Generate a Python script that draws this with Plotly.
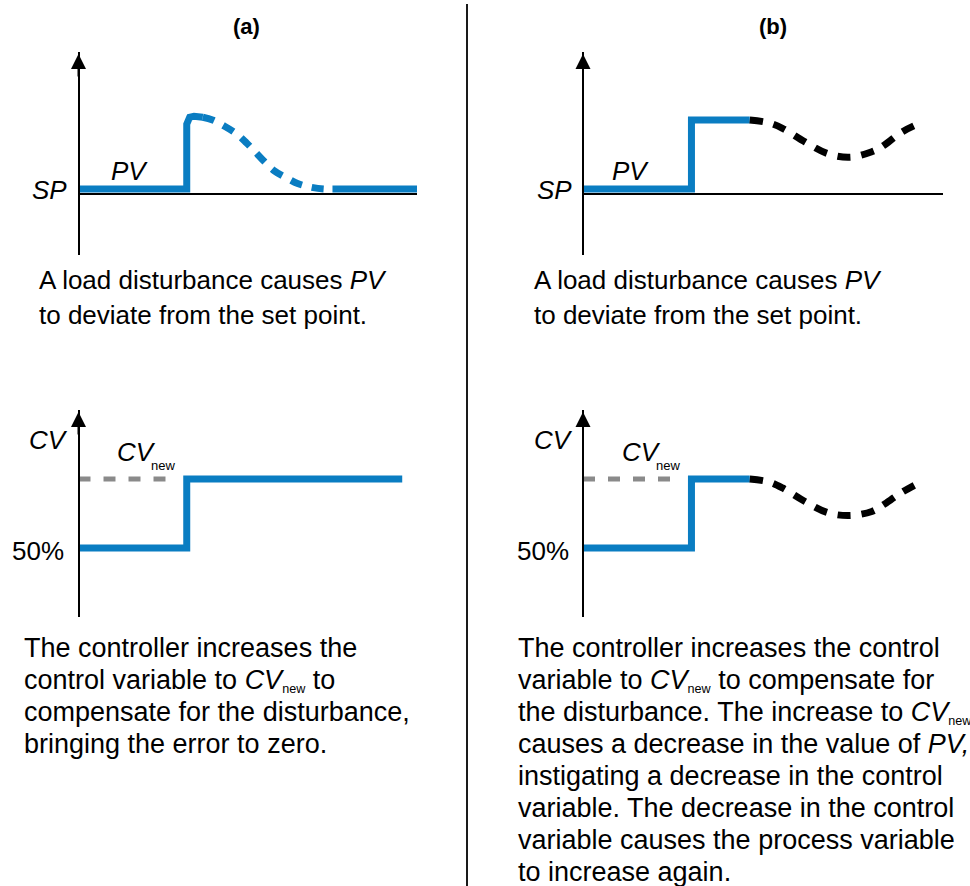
import plotly.graph_objects as go

W, H = 970, 886

# ---------------- data (time units, signal units) ----------------
# Panel (a), process variable
PV_A_RISE_T = [0, 9.93, 9.93, 10.0, 10.2, 10.6, 11.1, 11.4]
PV_A_RISE_V = [0, 0, 9.4, 10.0, 10.4, 10.55, 10.55, 10.4]
PV_A_DECAY_T = [11.4, 12.3, 13.4, 14.5, 15.4, 16.2, 17.1, 18.0, 19.1, 20.1, 21.2, 22.5, 23.3]
PV_A_DECAY_V = [10.4, 10.0, 9.1, 8.0, 6.7, 5.4, 3.9, 2.6, 1.6, 0.8, 0.3, 0.0, 0.0]
PV_A_SETTLED_T = [23.3, 31.06]
PV_A_SETTLED_V = [0, 0]

# Panel (a), control variable
CV_A_T = [0, 9.93, 9.93, 29.7]
CV_A_V = [50, 50, 60, 60]
CV_NEW_T = [0, 8.6]
CV_NEW_V = [60, 60]

# Panel (b), process variable
PV_B_STEP_T = [0, 9.95, 9.95, 15.3]
PV_B_STEP_V = [0, 0, 10, 10]
PV_B_OSC_T = [15.3, 17.0, 18.3, 20.4, 22.5, 24.5, 26.5, 27.3, 29.3, 31.0]
PV_B_OSC_V = [10, 9.6, 8.8, 6.8, 5.1, 4.6, 5.4, 6.0, 8.3, 9.6]

# Panel (b), control variable
CV_B_STEP_T = [0, 9.95, 9.95, 15.3]
CV_B_STEP_V = [50, 50, 60, 60]
CV_B_OSC_T = [15.3, 17.0, 18.3, 20.4, 22.5, 24.5, 26.5, 27.3, 29.3, 31.0]
CV_B_OSC_V = [60, 59.6, 58.7, 56.7, 55.1, 54.7, 55.3, 56.0, 58.1, 59.6]

# Text
TITLES = ["(a)", "(b)"]
SUB_NEW = '<span style="font-size:18px"><sub>new</sub></span>'
TOP_TEXT = ["A load disturbance causes <i>PV</i>", "to deviate from the set point."]
BOTTOM_A_TEXT = [
    "The controller increases the",
    "control variable to <i>CV</i>" + SUB_NEW + " to",
    "compensate for the disturbance,",
    "bringing the error to zero.",
]
BOTTOM_B_TEXT = [
    "The controller increases the control",
    "variable to <i>CV</i>" + SUB_NEW + " to compensate for",
    "the disturbance. The increase to <i>CV</i>" + SUB_NEW,
    "causes a decrease in the value of <i>PV,</i>",
    "instigating a decrease in the control",
    "variable. The decrease in the control",
    "variable causes the process variable",
    "to increase again.",
]

# ---------------- styling / layout ----------------
FONT = "Liberation Sans, Arial, Helvetica, sans-serif"
BLUE = "#0a7dc2"
BLACK = "#000000"
GRAY = "#8a8a8a"
PX_T = 10.9   # pixels per time unit
PX_V = 6.9    # pixels per signal unit

panels = [
    dict(x="x", y="y", ox=78.5, x1=417, oy=189, v0=0, top=50, bottom=255, hline=193.5),
    dict(x="x2", y="y2", ox=583, x1=943, oy=189, v0=0, top=50, bottom=255, hline=193.5),
    dict(x="x3", y="y3", ox=78.5, x1=417, oy=548, v0=50, top=408, bottom=617, hline=None),
    dict(x="x4", y="y4", ox=583, x1=943, oy=548, v0=50, top=408, bottom=617, hline=None),
]

fig = go.Figure()


def add_line(p, t, v, color, width, dash="solid", shape="linear"):
    fig.add_trace(go.Scatter(
        x=t, y=v, xaxis=p["x"], yaxis=p["y"], mode="lines",
        line=dict(color=color, width=width, dash=dash, shape=shape, smoothing=1.0),
        hoverinfo="skip", showlegend=False, cliponaxis=False,
    ))


pa, pb, ca, cb = panels
add_line(pa, PV_A_RISE_T, PV_A_RISE_V, BLUE, 7)
add_line(pa, PV_A_DECAY_T, PV_A_DECAY_V, BLUE, 7, dash="12px,10px", shape="spline")
add_line(pa, PV_A_SETTLED_T, PV_A_SETTLED_V, BLUE, 7)

add_line(ca, CV_NEW_T, CV_NEW_V, GRAY, 5, dash="12px,13px")
add_line(ca, CV_A_T, CV_A_V, BLUE, 7)

add_line(pb, PV_B_STEP_T, PV_B_STEP_V, BLUE, 7)
add_line(pb, PV_B_OSC_T, PV_B_OSC_V, BLACK, 7, dash="13px,11px", shape="spline")

add_line(cb, CV_NEW_T, CV_NEW_V, GRAY, 5, dash="12px,13px")
add_line(cb, CV_B_STEP_T, CV_B_STEP_V, BLUE, 7)
add_line(cb, CV_B_OSC_T, CV_B_OSC_V, BLACK, 7, dash="13px,11px", shape="spline")

layout = dict(
    width=W, height=H, autosize=False,
    margin=dict(l=0, r=0, t=0, b=0),
    paper_bgcolor="white", plot_bgcolor="rgba(0,0,0,0)",
    showlegend=False,
    font=dict(family=FONT, color="black"),
)

annotations = []
ARROW_W, ARROW_SIZE = 2, 1.5
ARROW_SCALE = ARROW_W * ARROW_SIZE
for i, p in enumerate(panels):
    sx = "" if i == 0 else str(i + 1)
    xr = [0, (p["x1"] - p["ox"]) / PX_T]
    yr = [p["v0"] - (p["bottom"] - p["oy"]) / PX_V, p["v0"] + (p["oy"] - (p["top"] + 2)) / PX_V]
    xa = dict(domain=[p["ox"] / W, p["x1"] / W], range=xr, showgrid=False, zeroline=False,
              showticklabels=False, ticks="", fixedrange=True,
              anchor="free", position=1 - (p["hline"] if p["hline"] else p["bottom"]) / H,
              showline=p["hline"] is not None, linecolor="black", linewidth=2)
    ya = dict(domain=[1 - p["bottom"] / H, 1 - (p["top"] + 2) / H], range=yr, showgrid=False,
              zeroline=False, showticklabels=False, ticks="", fixedrange=True,
              anchor="free", position=p["ox"] / W,
              showline=True, linecolor="black", linewidth=2)
    layout["xaxis" + sx] = xa
    layout["yaxis" + sx] = ya
    # arrow head on top of the vertical axis
    tip_v = p["v0"] + (p["oy"] - (p["top"] + 1.3 * ARROW_SCALE)) / PX_V
    annotations.append(dict(x=0, y=tip_v, xref=p["x"], yref=p["y"], text="",
                            showarrow=True, arrowhead=2, arrowsize=ARROW_SIZE, arrowwidth=ARROW_W,
                            arrowcolor="black", ax=0, ay=24))


def label(text, x, y, size=26, xanchor="center", yanchor="middle"):
    annotations.append(dict(text=text, x=x / W, y=1 - y / H, xref="paper", yref="paper",
                            showarrow=False, xanchor=xanchor, yanchor=yanchor,
                            font=dict(size=size, family=FONT, color="black")))


label("<b>" + TITLES[0] + "</b>", 246, 27, size=22)
label("<b>" + TITLES[1] + "</b>", 773, 27, size=22)
for dx, ox in [(0, 0), (1, 505)]:
    label("<i>SP</i>", 49.5 + ox, 190)
    label("<i>PV</i>", 129.5 + ox - (4 if dx else 0), 171)
    label("<i>CV</i>", 48.5 + ox, 440)
    label("<i>CV</i>", 115 + ox, 452, xanchor="left")
    label("new", 149 + ox, 466, size=13, xanchor="left")
    label("50%", 37.5 + ox, 551)

TOP_X = [37, 532]
for x0 in TOP_X:
    for k, line in enumerate(TOP_TEXT):
        label(line, x0, 280 + 35 * k, size=26, xanchor="left")

LINE_GAP = 32
for k, line in enumerate(BOTTOM_A_TEXT):
    label(line, 22, 648 + LINE_GAP * k, size=27, xanchor="left")
for k, line in enumerate(BOTTOM_B_TEXT):
    label(line, 516, 648 + LINE_GAP * k, size=27, xanchor="left")

layout["annotations"] = annotations
layout["shapes"] = [dict(type="line", xref="paper", yref="paper",
                         x0=467 / W, x1=467 / W, y0=1 - 4 / H, y1=0,
                         line=dict(color="#1a1a1a", width=2))]

fig.update_layout(**layout)
fig.write_html(
    "out.html",
    config={"displayModeBar": False},
    post_script="document.body.style.margin='0px';document.body.style.overflow='hidden';",
)
